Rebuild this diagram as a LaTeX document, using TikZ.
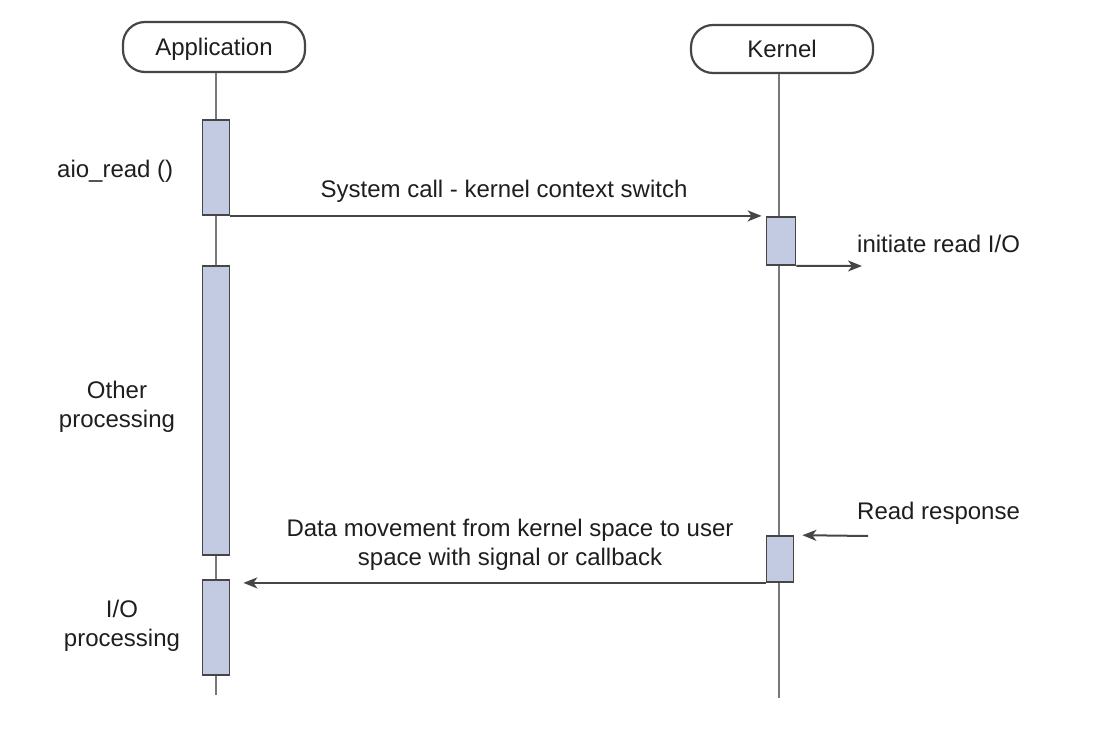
\documentclass[tikz,border=0pt]{standalone}
\usepackage{fontspec}
\setmainfont{Liberation Sans}
\usetikzlibrary{positioning, arrows.meta}

\definecolor{actfill}{RGB}{194,203,225}
\definecolor{lineg}{RGB}{120,120,120}
\definecolor{edgeg}{RGB}{70,70,70}
\definecolor{txtg}{RGB}{30,30,30}

\begin{document}
\begin{tikzpicture}[
    x=1pt, y=-1pt,
    every node/.style={font=\fontsize{24}{29}\selectfont, text=txtg, inner sep=0pt},
    actor/.style={draw=edgeg, line width=2.2pt, rounded corners=22pt, minimum width=182pt, minimum height=50pt, text height=17pt, text depth=0pt, fill=white},
    act/.style={draw=edgeg, line width=1.8pt, fill=actfill, minimum width=27pt},
    lifeline/.style={draw=lineg, line width=2.6pt},
    msg/.style={draw=edgeg, line width=2pt, -{Stealth[length=14pt, width=11pt, inset=4pt]}},
    lbl/.style={align=center, anchor=base}
]
\useasboundingbox (0,0) rectangle (1108,738);

% Lifelines
\node[actor] (app) at (214,47) {Application};
\node[actor, minimum height=48pt] (kern) at (782,49) {Kernel};
\coordinate (append) at (216,695);
\coordinate (kernend) at (779,698);
\draw[lifeline] (app.south -| append) -- (append);
\draw[lifeline] (kern.south -| kernend) -- (kernend);

% Activations
\node[act, minimum height=95pt] (appread) at (216,167.5) {};
\node[act, minimum height=289pt] (appother) at (216,410.5) {};
\node[act, minimum height=95pt] (appio) at (216,627.5) {};
\node[act, minimum height=48pt, minimum width=29pt] (kernio) at (781,241) {};
\node[act, minimum height=46pt] (kernresp) at (780,559) {};

% Labels (multi-line ones sit on the last line's baseline)
\node[anchor=base west] (readlbl) at (57,178) {aio\_read ()};
\node[lbl] (otherlbl) at (117,427) {Other\\processing};
\node[lbl] (iolbl) at (122,646) {I/O\\processing};
\node[anchor=base] (calllbl) at (504,198) {System call - kernel context switch};
\node[anchor=base west] (initlbl) at (857,252) {initiate read I/O};
\node[anchor=base west] (resplbl) at (857,519) {Read response};
\node[lbl] (datalbl) at (510,565) {Data movement from kernel space to user\\space with signal or callback};

% Arrows
\coordinate (ioout) at (862,266);
\coordinate (respin) at (868,536);
\draw[msg, shorten >=4pt] (appread.south east) -- (appread.south east -| kernio.west);
\draw[msg] (kernio.south east) -- (ioout);
\draw[msg, shorten >=8pt] (respin) -- (kernresp.north east);
\draw[msg, shorten >=13pt] (kernresp.south west) -- (kernresp.south west -| appio.east);

\end{tikzpicture}
\end{document}
